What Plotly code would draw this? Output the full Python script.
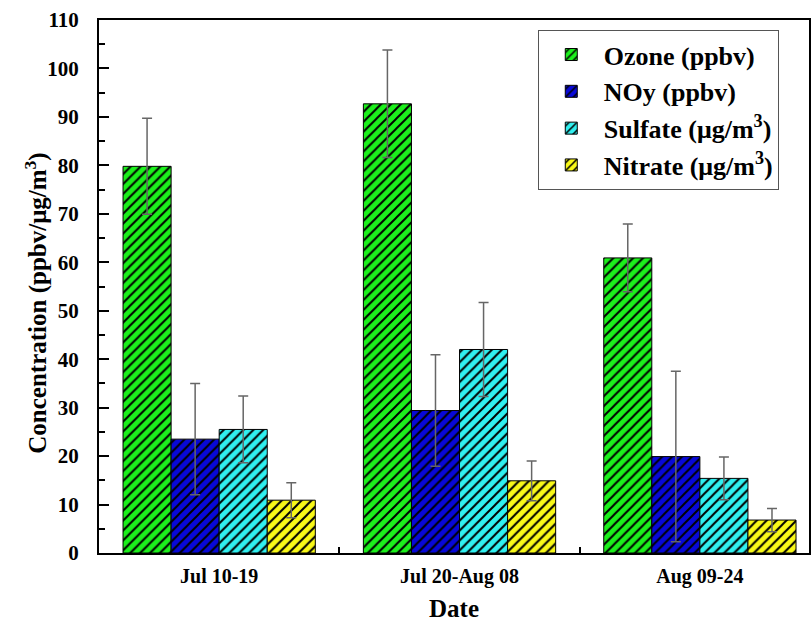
import plotly.graph_objects as go

periods = ["Jul 10-19", "Jul 20-Aug 08", "Aug 09-24"]
series_names = ["Ozone (ppbv)", "NOy (ppbv)", "Sulfate (μg/m<sup>3</sup>)", "Nitrate (μg/m<sup>3</sup>)"]
ozone = [79.8, 92.7, 60.9]
ozone_err = [9.9, 11.1, 7.0]
noy = [23.5, 29.4, 19.9]
noy_err = [11.5, 11.5, 17.6]
sulfate = [25.5, 42.0, 15.4]
sulfate_err = [6.9, 9.7, 4.4]
nitrate = [10.9, 14.9, 6.8]
nitrate_err = [3.6, 4.1, 2.4]
colors = ["#1CF01C", "#0808D8", "#30F0F0", "#F8F818"]

values = [ozone, noy, sulfate, nitrate]
errors = [ozone_err, noy_err, sulfate_err, nitrate_err]

font_family = "Liberation Serif"

fig = go.Figure()
for name, vals, errs, col in zip(series_names, values, errors, colors):
    fig.add_trace(go.Bar(
        name=name,
        x=periods,
        y=vals,
        marker=dict(
            color=col,
            line=dict(color="black", width=1),
            pattern=dict(shape="/", fgcolor="black", bgcolor=col, size=7, solidity=0.28, fillmode="replace"),
        ),
        error_y=dict(type="data", array=errs, visible=True, color="#666666", thickness=1.5, width=5),
    ))

fig.add_annotation(
    text="Concentration (ppbv/μg/m<sup>3</sup>)",
    xref="paper", yref="paper", x=-0.0885, y=0.468,
    xanchor="center", yanchor="middle", textangle=-90, showarrow=False,
    font=dict(family=font_family, size=25, weight="bold", color="black"),
)

fig.update_layout(
    width=811, height=622,
    margin=dict(l=99, r=0, t=20, b=68),
    paper_bgcolor="white", plot_bgcolor="white",
    barmode="group", bargap=0.2, bargroupgap=0,
    font=dict(family=font_family, color="black"),
    showlegend=True,
    legend=dict(
        x=0.618, y=0.981, xanchor="left", yanchor="top",
        bordercolor="#555555", borderwidth=1, bgcolor="white",
        font=dict(family=font_family, size=26, weight="bold", color="black"),
        itemwidth=55,
    ),
    xaxis=dict(
        range=[-0.5, 2.454],
        showline=True, linecolor="black", linewidth=2, mirror=True,
        ticks="inside", tickson="boundaries", ticklen=6, tickcolor="black", tickwidth=2,
        tickfont=dict(family=font_family, size=20, weight="bold"),
        ticklabelstandoff=4,
        title=dict(text="Date", font=dict(family=font_family, size=25, weight="bold"), standoff=16),
        showgrid=False, zeroline=False,
    ),
    yaxis=dict(
        range=[0, 110], dtick=10,
        showline=True, linecolor="black", linewidth=2, mirror=True,
        ticks="inside", ticklen=10, tickcolor="black", tickwidth=2,
        minor=dict(dtick=5, ticks="inside", ticklen=6, tickcolor="black", tickwidth=2),
        tickfont=dict(family=font_family, size=21, weight="bold"),
        ticklabelstandoff=14,
        showgrid=False, zeroline=False,
    ),
)

fig.write_html("out.html")
